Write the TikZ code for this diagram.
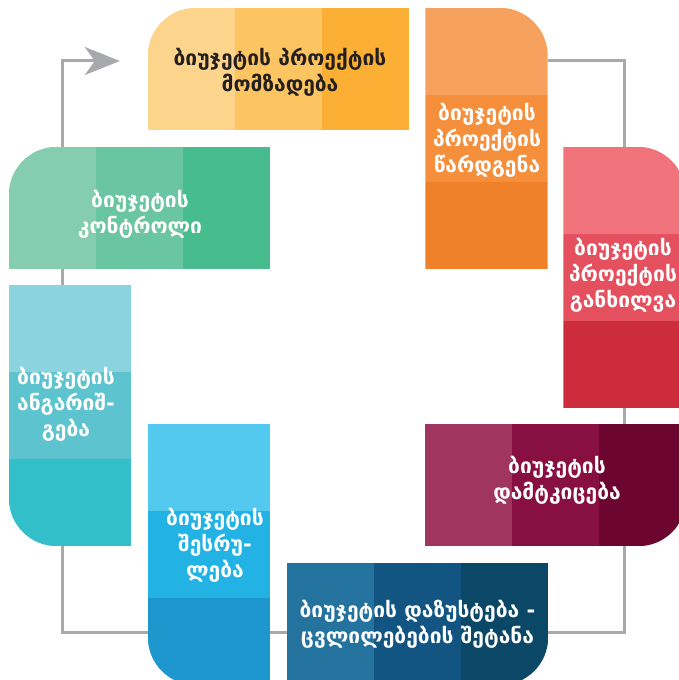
\documentclass[tikz,border=0pt]{standalone}
\usepackage{fontspec}
\setmainfont{DejaVu Sans}
\usepackage{tikz}
\usetikzlibrary{arrows.meta, positioning, backgrounds}

\definecolor{loopgray}{HTML}{A7A9AC}
\definecolor{prepA}{HTML}{FDD48B}
\definecolor{prepB}{HTML}{FDC562}
\definecolor{prepC}{HTML}{FBB035}
\definecolor{submitA}{HTML}{F7A15E}
\definecolor{submitB}{HTML}{F58F3C}
\definecolor{submitC}{HTML}{F0812B}
\definecolor{reviewA}{HTML}{F0737C}
\definecolor{reviewB}{HTML}{E4505E}
\definecolor{reviewC}{HTML}{CC2C3C}
\definecolor{approveA}{HTML}{A0355F}
\definecolor{approveB}{HTML}{870F41}
\definecolor{approveC}{HTML}{6C0630}
\definecolor{refineA}{HTML}{24729E}
\definecolor{refineB}{HTML}{125583}
\definecolor{refineC}{HTML}{0B4766}
\definecolor{executeA}{HTML}{53C9F0}
\definecolor{executeB}{HTML}{22B2E4}
\definecolor{executeC}{HTML}{1D97CD}
\definecolor{reportA}{HTML}{8BD3DE}
\definecolor{reportB}{HTML}{5DC4CF}
\definecolor{reportC}{HTML}{32BFC9}
\definecolor{controlA}{HTML}{85CDB0}
\definecolor{controlB}{HTML}{6AC5A2}
\definecolor{controlC}{HTML}{47BC8E}
\definecolor{darktext}{HTML}{231F20}

\begin{document}
\begin{tikzpicture}[
  x=1pt, y=1pt,
  wide/.style={minimum width=261pt, minimum height=122pt, inner sep=0pt},
  tall/.style={minimum width=122pt, minimum height=261pt, inner sep=0pt},
  txt/.style={text=white, align=center, inner sep=0pt,
    font=\bfseries\fontsize{21}{26}\selectfont},
  cycleline/.style={draw=loopgray, line width=3pt}
]
\useasboundingbox (0,0) rectangle (678,680);

\node[wide] (prep) at (278.5,611) {};
\node[tall] (submit) at (486.5,541.5) {};
\node[tall] (review) at (624.5,402.5) {};
\node[wide] (approve) at (555.5,195) {};
\node[wide] (refine) at (417.5,56) {};
\node[tall] (execute) at (209,125.5) {};
\node[tall] (report) at (70,264.5) {};
\node[wide] (control) at (139.5,472) {};
\coordinate (tip) at ([shift={(-28pt,8pt)}]prep.west);

\begin{pgfonlayer}{background}
\draw[cycleline] ([yshift=-53pt]submit.north east) -| (review.north);
\draw[cycleline] (review.south) -- (review.south |- approve.north);
\draw[cycleline] (review.south |- approve.south) |- ([yshift=-9pt]refine.east);
\draw[cycleline] ([yshift=-9pt]refine.west) -| ([xshift=-8pt]report.south);
\draw[cycleline] ([xshift=-8pt]report.north) -- ([xshift=-8pt]report.north |- control.south);
\draw[cycleline, -{Stealth[length=35pt, width=28pt, inset=10pt]}]
  ([xshift=-8pt]report.north |- control.north) |- (tip);

\begin{scope}
\clip (prep.south west) -- ([yshift=-48pt]prep.north west)
  arc[start angle=180, end angle=90, radius=48pt] -- (prep.north east) -- (prep.south east) -- cycle;
\foreach \c [count=\i from 0] in {prepA,prepB,prepC}
  \fill[\c] ([xshift=\i*87pt]prep.north west) rectangle ([xshift=\i*87pt+87pt]prep.south west);
\end{scope}

\begin{scope}
\clip (submit.north west) -- ([xshift=-48pt]submit.north east)
  arc[start angle=90, end angle=0, radius=48pt] -- (submit.south east) -- (submit.south west) -- cycle;
\foreach \c [count=\i from 0] in {submitA,submitB,submitC}
  \fill[\c] ([yshift=-\i*87pt]submit.north west) rectangle ([yshift=-\i*87pt-87pt]submit.north east);
\end{scope}

\begin{scope}
\clip (review.north west) -- ([xshift=-48pt]review.north east)
  arc[start angle=90, end angle=0, radius=48pt] -- (review.south east) -- (review.south west) -- cycle;
\foreach \c [count=\i from 0] in {reviewA,reviewB,reviewC}
  \fill[\c] ([yshift=-\i*87pt]review.north west) rectangle ([yshift=-\i*87pt-87pt]review.north east);
\end{scope}

\begin{scope}
\clip (approve.north west) -- (approve.north east) -- ([yshift=48pt]approve.south east)
  arc[start angle=0, end angle=-90, radius=48pt] -- (approve.south west) -- cycle;
\foreach \c [count=\i from 0] in {approveA,approveB,approveC}
  \fill[\c] ([xshift=\i*87pt]approve.north west) rectangle ([xshift=\i*87pt+87pt]approve.south west);
\end{scope}

\begin{scope}
\clip (refine.north west) -- (refine.north east) -- ([yshift=48pt]refine.south east)
  arc[start angle=0, end angle=-90, radius=48pt] -- (refine.south west) -- cycle;
\foreach \c [count=\i from 0] in {refineA,refineB,refineC}
  \fill[\c] ([xshift=\i*87pt]refine.north west) rectangle ([xshift=\i*87pt+87pt]refine.south west);
\end{scope}

\begin{scope}
\clip (execute.north west) -- (execute.north east) -- (execute.south east)
  -- ([xshift=48pt]execute.south west) arc[start angle=270, end angle=180, radius=48pt] -- cycle;
\foreach \c [count=\i from 0] in {executeA,executeB,executeC}
  \fill[\c] ([yshift=-\i*87pt]execute.north west) rectangle ([yshift=-\i*87pt-87pt]execute.north east);
\end{scope}

\begin{scope}
\clip (report.north west) -- (report.north east) -- (report.south east)
  -- ([xshift=48pt]report.south west) arc[start angle=270, end angle=180, radius=48pt] -- cycle;
\foreach \c [count=\i from 0] in {reportA,reportB,reportC}
  \fill[\c] ([yshift=-\i*87pt]report.north west) rectangle ([yshift=-\i*87pt-87pt]report.north east);
\end{scope}

\begin{scope}
\clip (control.south west) -- ([yshift=-48pt]control.north west)
  arc[start angle=180, end angle=90, radius=48pt] -- (control.north east) -- (control.south east) -- cycle;
\foreach \c [count=\i from 0] in {controlA,controlB,controlC}
  \fill[\c] ([xshift=\i*87pt]control.north west) rectangle ([xshift=\i*87pt+87pt]control.south west);
\end{scope}
\end{pgfonlayer}

\node[txt, text=darktext] (prep-txt) at ([shift={(1.5pt,-3pt)}]prep) {ბიუჯეტის პროექტის\\მომზადება};
\node[txt] (submit-txt) at ([shift={(0.5pt,-1.5pt)}]submit) {ბიუჯეტის\\პროექტის\\წარდგენა};
\node[txt] (review-txt) at ([shift={(-1.5pt,2.5pt)}]review) {ბიუჯეტის\\პროექტის\\განხილვა};
\node[txt] (approve-txt) at ([shift={(1.5pt,5pt)}]approve) {ბიუჯეტის\\დამტკიცება};
\node[txt] (refine-txt) at (refine) {ბიუჯეტის დაზუსტება -\\ცვლილებების შეტანა};
\node[txt] (execute-txt) at ([shift={(6pt,9.5pt)}]execute) {ბიუჯეტის\\შესრუ-\\ლება};
\node[txt] (report-txt) at ([shift={(-4pt,11.5pt)}]report) {ბიუჯეტის\\ანგარიშ-\\გება};
\node[txt] (control-txt) at ([shift={(0.5pt,-6pt)}]control) {ბიუჯეტის\\კონტროლი};
\end{tikzpicture}
\end{document}
